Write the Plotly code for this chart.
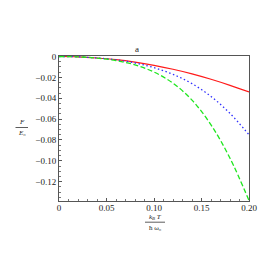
import plotly.graph_objects as go

x_vals = [0.0, 0.02, 0.04, 0.06, 0.08, 0.10, 0.12, 0.14, 0.16, 0.18, 0.20]
red_vals = [0.0, -0.0003, -0.0014, -0.0030, -0.0054, -0.0085, -0.0122, -0.0166, -0.0218, -0.0276, -0.0340]
blue_vals = [0.0, -0.0003, -0.0014, -0.0032, -0.0062, -0.0107, -0.0171, -0.0260, -0.0383, -0.0545, -0.0750]
green_vals = [0.0, -0.0003, -0.0015, -0.0039, -0.0080, -0.0149, -0.0256, -0.0418, -0.0655, -0.0975, -0.1380]

x_ticks = [0, 0.05, 0.10, 0.15, 0.20]
x_tick_text = ["0", "0.05", "0.10", "0.15", "0.20"]
y_ticks = [0, -0.02, -0.04, -0.06, -0.08, -0.10, -0.12]
y_tick_text = ["0", "\u22120.02", "\u22120.04", "\u22120.06", "\u22120.08", "\u22120.10", "\u22120.12"]

FONT = "Liberation Serif"
# page body has an 8px default margin; compensate so the plot area sits at page x 59..249, y 56..201
OFF = 8
L, T, PW, PH = 59 - OFF, 56 - OFF, 190, 145

fig = go.Figure()
fig.add_trace(go.Scatter(x=x_vals, y=red_vals, mode="lines", line=dict(color="#ff1a1a", width=1.2, shape="spline"), showlegend=False))
fig.add_trace(go.Scatter(x=x_vals, y=blue_vals, mode="lines", line=dict(color="#3030ff", width=1.3, dash="1.5px,2.5px", shape="spline"), showlegend=False))
fig.add_trace(go.Scatter(x=x_vals, y=green_vals, mode="lines", line=dict(color="#1ee61e", width=1.3, dash="5px,2.5px", shape="spline"), showlegend=False))

axis_common = dict(showgrid=False, zeroline=False, showline=True, linecolor="#555555", linewidth=1,
                   mirror=True, ticks="inside", ticklen=3, tickcolor="#555555",
                   tickfont=dict(family=FONT, size=9, color="#222222"))

fig.update_layout(
    width=277 - OFF, height=277 - OFF,
    margin=dict(l=L, r=277 - OFF - L - PW, t=T, b=277 - OFF - T - PH),
    paper_bgcolor="white", plot_bgcolor="white",
    xaxis=dict(range=[0, 0.2], tickvals=x_ticks, ticktext=x_tick_text, ticklabelstandoff=-2,
               minor=dict(ticks="inside", ticklen=2, dtick=0.01, tickcolor="#777777"),
               **axis_common),
    yaxis=dict(range=[-0.1385, 0.0005], tickvals=y_ticks, ticktext=y_tick_text,
               minor=dict(ticks="inside", ticklen=2, dtick=0.005, tickcolor="#777777"),
               **axis_common),
)

def px(xp):
    return (xp - 59) / PW

def py(yp):
    return (201 - yp) / PH

def note(text, xp, yp, yanchor, size=7):
    fig.add_annotation(x=px(xp), y=py(yp), xref="paper", yref="paper", text=text,
                       showarrow=False, xanchor="center", yanchor=yanchor, borderpad=0,
                       font=dict(family=FONT, size=size, color="#222222"))

# title
note("a", 137, 48.5, "middle", size=9)
# y label fraction
note("<i>F</i>", 21.5, 126.8, "bottom")
note("<i>E</i>\u2080", 21.5, 128.3, "top")
fig.add_shape(type="line", xref="paper", yref="paper",
              x0=px(15.5), x1=px(28), y0=py(127.5), y1=py(127.5),
              line=dict(color="#333333", width=0.8))
# x label fraction
note("<i>k</i><sub><i>B</i></sub> <i>T</i>", 155, 221.5, "bottom")
note("\u0127 \u03c9\u2080", 155, 222.9, "top")
fig.add_shape(type="line", xref="paper", yref="paper",
              x0=px(145), x1=px(165), y0=py(222.2), y1=py(222.2),
              line=dict(color="#333333", width=0.8))

fig.write_html("out.html")
